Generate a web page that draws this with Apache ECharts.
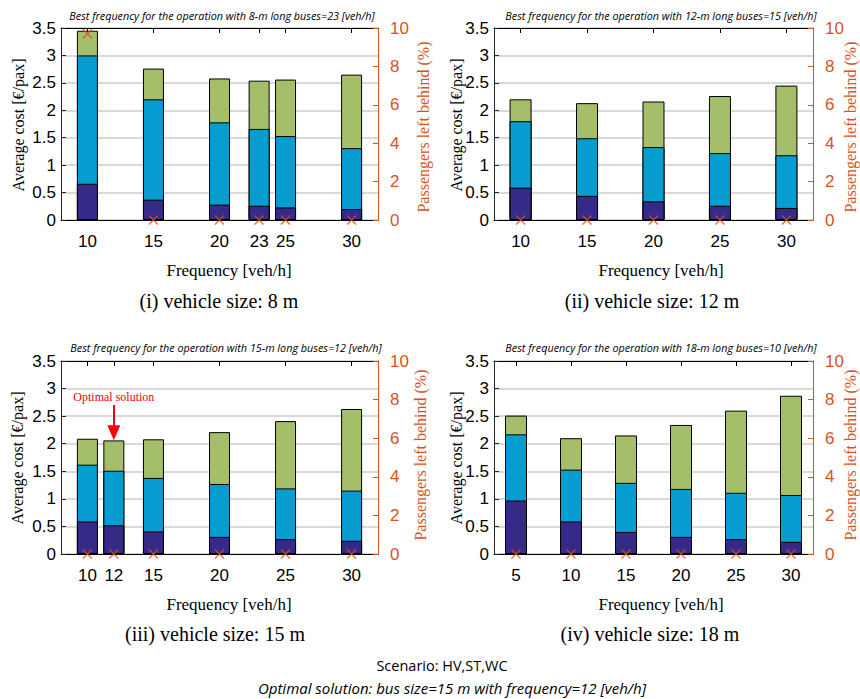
<!DOCTYPE html>
<html>
<head>
<meta charset="utf-8">
<script src="https://cdn.jsdelivr.net/npm/echarts@6/dist/echarts.min.js"></script>
<style>html,body{margin:0;padding:0;background:#fff}#c{width:860px;height:699px}</style>
</head>
<body>
<div id="c"></div>
<script>
// ---- Data ----
// (i) 8 m buses
const freq8   = [10, 15, 20, 23, 25, 30];
const dark8   = [0.66, 0.37, 0.28, 0.26, 0.23, 0.20];
const blue8   = [2.34, 1.83, 1.50, 1.40, 1.30, 1.11];
const green8  = [0.45, 0.56, 0.80, 0.88, 1.03, 1.34];
const behind8 = [9.7, 0, 0, 0, 0, 0];
// (ii) 12 m buses
const freq12   = [10, 15, 20, 25, 30];
const dark12   = [0.59, 0.44, 0.34, 0.26, 0.22];
const blue12   = [1.21, 1.05, 0.99, 0.96, 0.96];
const green12  = [0.40, 0.64, 0.83, 1.04, 1.27];
const behind12 = [0, 0, 0, 0, 0];
// (iii) 15 m buses
const freq15   = [10, 12, 15, 20, 25, 30];
const dark15   = [0.59, 0.52, 0.41, 0.31, 0.27, 0.24];
const blue15   = [1.03, 0.99, 0.97, 0.96, 0.92, 0.91];
const green15  = [0.47, 0.55, 0.70, 0.94, 1.22, 1.48];
const behind15 = [0, 0, 0, 0, 0, 0];
// (iv) 18 m buses
const freq18   = [5, 10, 15, 20, 25, 30];
const dark18   = [0.97, 0.59, 0.40, 0.31, 0.27, 0.22];
const blue18   = [1.20, 0.94, 0.89, 0.87, 0.84, 0.85];
const green18  = [0.34, 0.57, 0.86, 1.16, 1.49, 1.80];
const behind18 = [0, 0, 0, 0, 0, 0];

const costTicks   = [0, 3.5, 0.5];   // min, max, step
const behindTicks = [0, 10, 2];
const optimalFreq = 12;
const optimalArrow = [2.70, 2.20];   // arrow start / end value on cost axis

const panelTitles = [
  'Best frequency for the operation with 8-m long buses=23 [veh/h]',
  'Best frequency for the operation with 12-m long buses=15 [veh/h]',
  'Best frequency for the operation with 15-m long buses=12 [veh/h]',
  'Best frequency for the operation with 18-m long buses=10 [veh/h]'
];
const panelCaptions = [
  '(i) vehicle size: 8 m', '(ii) vehicle size: 12 m',
  '(iii) vehicle size: 15 m', '(iv) vehicle size: 18 m'
];
const xName = 'Frequency [veh/h]';
const yNameLeft = 'Average cost [€/pax]';
const yNameRight = 'Passengers left behind (%)';
const footer1 = 'Scenario: HV,ST,WC';
const footer2 = 'Optimal solution: bus size=15 m with frequency=12 [veh/h]';

// ---- Layout ----
const panels = [
  {freq: freq8,  dark: dark8,  blue: blue8,  green: green8,  behind: behind8,  xMin: 8, xMax: 32,
   grid: {left: 61, top: 28, width: 317, height: 192}, barW: 21,
   titleXY: [222, 15], leftName: [18, 125], rightName: [423, 127], xNameXY: [229, 270], capXY: [219, 301]},
  {freq: freq12, dark: dark12, blue: blue12, green: green12, behind: behind12, xMin: 8, xMax: 32,
   grid: {left: 494, top: 28, width: 319, height: 192}, barW: 22,
   titleXY: [661, 15], leftName: [456, 125], rightName: [850, 127], xNameXY: [661, 270], capXY: [652, 301]},
  {freq: freq15, dark: dark15, blue: blue15, green: green15, behind: behind15, xMin: 8, xMax: 32,
   grid: {left: 61, top: 361, width: 317, height: 193}, barW: 21,
   titleXY: [226, 347], leftName: [17, 458], rightName: [420, 455], xNameXY: [229, 604], capXY: [215, 634]},
  {freq: freq18, dark: dark18, blue: blue18, green: green18, behind: behind18, xMin: 3, xMax: 32,
   grid: {left: 494, top: 361, width: 319, height: 193}, barW: 22,
   titleXY: [661, 347], leftName: [456, 458], rightName: [850, 455], xNameXY: [661, 604], capXY: [650, 634]}
];

const COL_DARK = '#352a87', COL_BLUE = '#089dd0', COL_GREEN = '#a5be6a', ORANGE = '#d95319';
const SANS = '"Liberation Sans", Arial, sans-serif';
const SERIF = '"Liberation Serif", "Times New Roman", serif';
const NOTE = '"Open Sans", "Noto Sans", sans-serif';

const grids = [], xAxes = [], yAxes = [], series = [], graphics = [];

panels.forEach((p, k) => {
  grids.push(Object.assign({containLabel: false}, p.grid));
  const ax = {
    gridIndex: k, type: 'value', min: p.xMin, max: p.xMax,
    axisLine: {show: true, onZero: false, lineStyle: {color: '#000', width: 1}},
    axisTick: {show: true, inside: true, length: 5, customValues: p.freq, lineStyle: {color: '#000'}},
    splitLine: {show: false}
  };
  xAxes.push(Object.assign({}, ax, {position: 'bottom',
    axisLabel: {customValues: p.freq, fontSize: 17, color: '#000', margin: 13, fontFamily: SANS}}));
  xAxes.push(Object.assign({}, ax, {position: 'top', axisLabel: {show: false}}));
  yAxes.push({
    gridIndex: k, type: 'value', position: 'left',
    min: costTicks[0], max: costTicks[1], interval: costTicks[2],
    axisLine: {show: true, lineStyle: {color: '#262626', width: 1}},
    axisTick: {show: true, inside: true, length: 5, lineStyle: {color: '#262626'}},
    axisLabel: {fontSize: 17, color: '#000', margin: 5, fontFamily: SANS},
    splitLine: {show: true, lineStyle: {color: '#d9d9d9', width: 2}}
  });
  yAxes.push({
    gridIndex: k, type: 'value', position: 'right',
    min: behindTicks[0], max: behindTicks[1], interval: behindTicks[2],
    axisLine: {show: true, lineStyle: {color: ORANGE, width: 1}},
    axisTick: {show: true, inside: true, length: 5, lineStyle: {color: ORANGE}},
    axisLabel: {fontSize: 17, color: ORANGE, margin: 12, fontFamily: SANS},
    splitLine: {show: false}
  });

  const lowTop = p.dark;
  const midTop = p.dark.map((v, i) => v + p.blue[i]);
  const total = midTop.map((v, i) => v + p.green[i]);
  const layers = [[total, COL_GREEN], [midTop, COL_BLUE], [lowTop, COL_DARK]];
  layers.forEach(([vals, col], li) => {
    const s = {
      type: 'bar', xAxisIndex: 2 * k, yAxisIndex: 2 * k,
      barWidth: p.barW, barGap: '-100%',
      data: p.freq.map((f, i) => [f, vals[i]]),
      itemStyle: {color: col, borderColor: '#000', borderWidth: 1},
      silent: true
    };
    if (k === 2 && li === 0) {
      s.markLine = {
        silent: true, animation: false,
        symbol: ['none', 'triangle'], symbolSize: [13, 15],
        lineStyle: {color: '#ff0000', width: 2, type: 'solid'},
        label: {show: true, position: 'start', distance: 2, formatter: 'Optimal solution',
                color: '#ff0000', fontFamily: SERIF, fontSize: 12},
        data: [[{coord: [optimalFreq, optimalArrow[0]]}, {coord: [optimalFreq, optimalArrow[1]]}]]
      };
    }
    series.push(s);
  });
  series.push({
    type: 'scatter', xAxisIndex: 2 * k, yAxisIndex: 2 * k + 1,
    data: p.freq.map((f, i) => [f, p.behind[i]]),
    symbol: 'path://M0,0L10,10M0,10L10,0', symbolSize: 9, clip: false, z: 5, silent: true,
    itemStyle: {color: 'none', borderColor: ORANGE, borderWidth: 1.4}
  });

  const txt = (xy, text, font, extra) => Object.assign({
    type: 'text', x: xy[0], y: xy[1], silent: true,
    style: Object.assign({text: text, align: 'center', verticalAlign: 'middle', fill: '#000'}, font)
  }, extra || {});
  graphics.push(txt(p.titleXY, panelTitles[k], {fontSize: 10.8, fontStyle: 'italic', fontFamily: NOTE}));
  graphics.push(txt(p.leftName, yNameLeft, {fontSize: 16, fontFamily: SERIF}, {rotation: Math.PI / 2}));
  graphics.push(txt(p.rightName, yNameRight, {fontSize: 16, fontFamily: SERIF, fill: ORANGE}, {rotation: Math.PI / 2}));
  graphics.push(txt(p.xNameXY, xName, {fontSize: 17, fontFamily: SERIF}));
  graphics.push(txt(p.capXY, panelCaptions[k], {fontSize: 20, fontFamily: SERIF}));
});

graphics.push({type: 'text', x: 442, y: 665, silent: true,
  style: {text: footer1, align: 'center', verticalAlign: 'middle', fill: '#000', fontSize: 14.5, fontFamily: NOTE}});
graphics.push({type: 'text', x: 452, y: 688, silent: true,
  style: {text: footer2, align: 'center', verticalAlign: 'middle', fill: '#000', fontSize: 15, fontStyle: 'italic', fontFamily: NOTE}});

const chart = echarts.init(document.getElementById('c'), null, {renderer: 'svg'});
chart.setOption({
  animation: false,
  backgroundColor: '#fff',
  grid: grids, xAxis: xAxes, yAxis: yAxes, series: series,
  graphic: graphics
});
</script>
</body>
</html>
